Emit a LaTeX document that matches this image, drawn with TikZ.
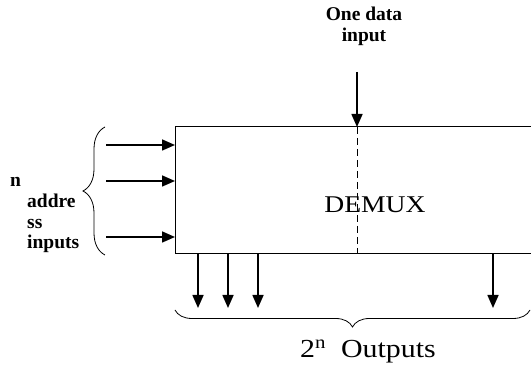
\documentclass[tikz,border=0pt]{standalone}
\usepackage{fontspec}
\setmainfont{Liberation Serif}
\newfontfamily\widefont[FakeStretch=1.15]{Liberation Serif}
\usepackage{tikz}
\usetikzlibrary{arrows.meta,positioning,decorations.pathreplacing,calc}
\tikzset{
  blockbox/.style={draw, line width=1pt, anchor=south west, inner sep=0pt,
    minimum width=400pt, minimum height=127pt},
  wire/.style={-{Triangle[length=13pt,width=11pt]}, line width=1.6pt},
  splitline/.style={line width=1pt, dash pattern=on 7pt off 4pt},
  bracemark/.style={decorate, decoration={brace, amplitude=#1}, line width=0.8pt},
  pinlabel/.style={font=\fontsize{19.5}{21}\selectfont\bfseries, inner sep=0pt},
  bigtext/.style={font=\widefont\fontsize{24}{29}\selectfont, inner sep=0pt}
}
\begin{document}
\begin{tikzpicture}[x=1pt,y=1pt]
  \clip (0,0) rectangle (531,366);
  % the demultiplexer block, cut off at the right
  \node[blockbox] (demux) at (175,112) {};
  \node[bigtext, anchor=base] (name) at (375,153) {DEMUX};
  % data input
  \coordinate (datain) at (357,294);
  \coordinate (splittop) at (357,239);
  \node[pinlabel, align=center, anchor=base] (datalabel) at (364,324) {One data\\input};
  \draw[wire] (datain) -- (splittop);
  \draw[splitline] (splittop) -- (splittop |- demux.south);
  % address inputs
  \foreach \y [count=\i] in {221,185,129}{
    \coordinate (addr\i) at (106,\y);
    \draw[wire] (addr\i) -- (addr\i -| demux.west);
  }
  \draw[bracemark=22pt] (105,111) -- (105,239);
  \node[pinlabel, anchor=base west] (nlabel) at (10,179) {n};
  \node[pinlabel, align=left, anchor=base west, font=\fontsize{19.5}{20.5}\selectfont\bfseries] (addrlabel) at (27,117) {addre\\ss\\inputs};
  % outputs
  \foreach \x [count=\i] in {198,228,258,493}{
    \coordinate (out\i) at (\x,58);
    \draw[wire] (out\i |- demux.south) -- (out\i);
  }
  \draw[bracemark=17pt] (530,56) -- (175,56);
  \node[bigtext, anchor=base, font=\widefont\fontsize{26}{29}\selectfont] (outlabel) at (368,8) {2\textsuperscript{n}~~Outputs};
\end{tikzpicture}
\end{document}
